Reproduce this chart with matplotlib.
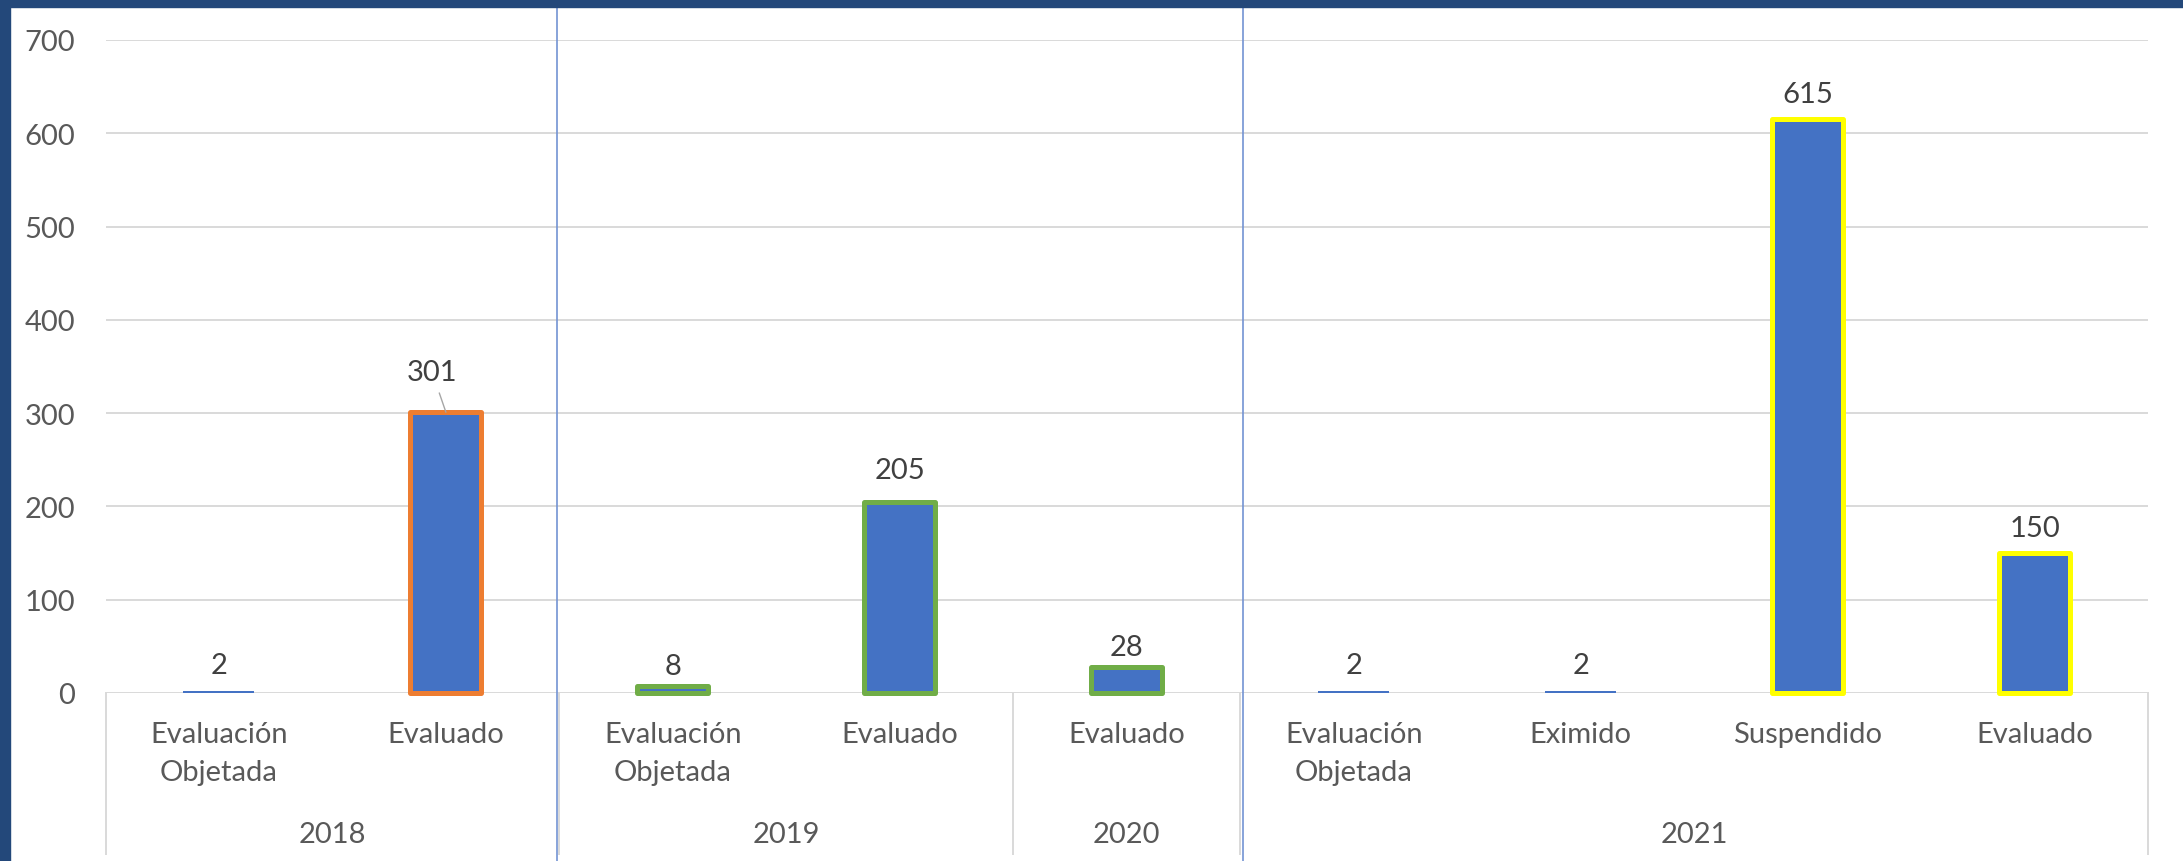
import numpy as np
import matplotlib.pyplot as plt
from matplotlib.patches import Rectangle
from matplotlib.lines import Line2D
from matplotlib.transforms import blended_transform_factory

# data
years = ['2018', '2019', '2020', '2021']
group_sizes = [2, 2, 1, 4]
categories = ['Evaluación\nObjetada', 'Evaluado',
              'Evaluación\nObjetada', 'Evaluado',
              'Evaluado',
              'Evaluación\nObjetada', 'Eximido', 'Suspendido', 'Evaluado']
values = [2, 301, 8, 205, 28, 2, 2, 615, 150]

# styling
plt.rcParams['font.family'] = ['Lato', 'DejaVu Sans']
FS = 21
BLUE = '#4472C4'
edge_cols = ['none', '#ED7D31', '#70AD47', '#70AD47', '#70AD47',
             'none', 'none', '#FFFF00', '#FFFF00']
label_dy = [19, 29, 14, 23, 14, 19, 19, 18, 18]   # points above bar top
label_dx = [0, -10, 0, 0, 0, 0, 0, 0, 0]

W, H = 2183, 862
fig = plt.figure(figsize=(W / 100, H / 100), dpi=100)
fig.patch.set_facecolor('white')

# axes placed in pixel terms
x0, x1 = 105.5, 2148
y_top, y_zero = 41, 694
ax = fig.add_axes([x0 / W, (H - y_zero) / H, (x1 - x0) / W, (y_zero - y_top) / H])
ax_h = y_zero - y_top

x = np.arange(len(values))
bars = ax.bar(x, values, width=0.313, color=BLUE, edgecolor=edge_cols,
              linewidth=3.6, zorder=3, clip_on=False)
for b in bars:
    b.set_joinstyle('round')

ax.set_xlim(-0.5, len(values) - 0.5)
ax.set_ylim(0, 700)
ax.set_yticks(range(0, 701, 100))
ax.set_xticks([])
ax.tick_params(axis='y', length=0, pad=22, labelsize=FS, labelcolor='#595959')
ax.yaxis.grid(True, color='#D9D9D9', lw=1.4, zorder=0)
ax.set_axisbelow(True)
for s in ax.spines.values():
    s.set_visible(False)

# data labels
for i, v in enumerate(values):
    if i == 1:
        ax.annotate(str(v), xy=(x[i], v), xytext=(label_dx[i], label_dy[i]),
                    textcoords='offset points', ha='center', va='center',
                    fontsize=FS, color='#404040',
                    arrowprops=dict(arrowstyle='-', color='#A6A6A6', lw=1,
                                    shrinkA=4, shrinkB=0), zorder=5)
    else:
        ax.annotate(str(v), xy=(x[i], v), xytext=(label_dx[i], label_dy[i]),
                    textcoords='offset points', ha='center', va='center',
                    fontsize=FS, color='#404040', zorder=5)

# multi level category axis
tr = ax.get_xaxis_transform()
def frac(py):
    return (y_zero - py) / ax_h

for i, lab in enumerate(categories):
    for j, line in enumerate(lab.split('\n')):
        ax.text(x[i], frac(735 + 38 * j), line, transform=tr, ha='center',
                va='center', fontsize=FS, color='#595959')

bounds = np.concatenate([[0], np.cumsum(group_sizes)]) - 0.5
for k, yr in enumerate(years):
    ax.text((bounds[k] + bounds[k + 1]) / 2, frac(835), yr, transform=tr,
            ha='center', va='center', fontsize=FS, color='#595959')
for b in bounds:
    ax.plot([b, b], [0, frac(855)], transform=tr, color='#D9D9D9', lw=1.4,
            clip_on=False, zorder=1)

# hand drawn blue separators between 2018|2019 and 2020|2021
ftr = blended_transform_factory(ax.transData, fig.transFigure)
for b, dx in [(bounds[1], -0.012), (bounds[3], 0.012)]:
    fig.add_artist(Line2D([b + dx, b + dx], [0, 1 - 8 / H], transform=ftr,
                          color='#7393D3', lw=1.2, zorder=6))

# dark frame on left and top
navy = '#23487A'
fig.add_artist(Rectangle((0, 0), 10 / W, 1, transform=fig.transFigure,
                         color=navy, zorder=10))
fig.add_artist(Rectangle((0, 1 - 8 / H), 1, 8 / H, transform=fig.transFigure,
                         color=navy, zorder=10))

fig.savefig('out.png', dpi=100)
